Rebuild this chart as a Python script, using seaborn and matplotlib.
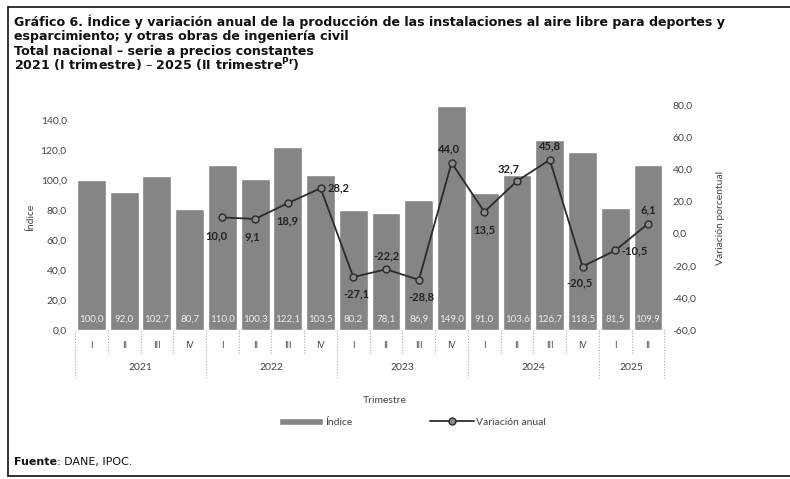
import numpy as np
import pandas as pd
import seaborn as sns
import matplotlib.pyplot as plt
from matplotlib.lines import Line2D
from matplotlib.patches import Patch
import matplotlib.transforms as mtransforms

# ---------------------------------------------------------------------------
# Data
# ---------------------------------------------------------------------------
years = ["2021", "2022", "2023", "2024", "2025"]
quarters_per_year = [4, 4, 4, 4, 2]
quarter_labels = ["I", "II", "III", "IV", "I", "II", "III", "IV", "I", "II", "III", "IV",
                  "I", "II", "III", "IV", "I", "II"]
indice = [100.0, 92.0, 102.7, 80.7, 110.0, 100.3, 122.1, 103.5, 80.2, 78.1, 86.9, 149.0,
          91.0, 103.6, 126.7, 118.5, 81.5, 109.9]
# annual variation starts in 2022-I (index 4)
variacion = [10.0, 9.1, 18.9, 28.2, -27.1, -22.2, -28.8, 44.0, 13.5, 32.7, 45.8, -20.5,
             -10.5, 6.1]
# label offsets (points) for the variation labels
var_offsets = [(-4, -13), (-2, -13), (0, -13), (13, 0), (2, -12), (0, 10), (2, -12),
               (-2, 10), (0, -13), (-6, 9), (0, 10), (-2, -12), (14, 0), (0, 10)]

periods = [f"{y}-{q}" for y, n in zip(years, quarters_per_year)
           for q in quarter_labels[:n]]
df_bar = pd.DataFrame({"periodo": periods, "indice": indice})
df_line = pd.DataFrame({"pos": np.arange(len(periods) - len(variacion), len(periods)),
                        "variacion": variacion})

def fmt(v):
    return f"{v:.1f}".replace(".", ",")

# ---------------------------------------------------------------------------
# Figure
# ---------------------------------------------------------------------------
sns.set_style("white")
plt.rcParams["font.family"] = ["Lato", "DejaVu Sans"]

fig = plt.figure(figsize=(7.9, 4.79), dpi=100)
ax = fig.add_axes([0.095, 0.311, 0.746, 0.47])

sns.barplot(data=df_bar, x="periodo", y="indice", order=periods, color="#858585",
            saturation=1, width=0.88, ax=ax)
ax.set_ylim(0, 150)
ax.set_yticks(np.arange(0, 141, 20))
ax.set_yticklabels([fmt(t) for t in np.arange(0, 141, 20)], fontsize=7.5, color="#444444")
ax.set_xlim(-0.5, len(periods) - 0.5)
ax.set_xticks([])
ax.set_xlabel("")
ax.set_ylabel("Índice", fontsize=7.5, color="#444444", labelpad=4)
ax.tick_params(axis="y", length=0, pad=6)
for s in ax.spines.values():
    s.set_visible(False)
ax.axhline(0, color="#bbbbbb", lw=0.8)

# bar value labels near the base
trans = mtransforms.blended_transform_factory(ax.transData, ax.transAxes)
for i, v in enumerate(indice):
    ax.text(i, 0.05, fmt(v), transform=trans, ha="center", va="center",
            fontsize=7, color="#eeeeee")

# variation line on secondary axis
ax2 = ax.twinx()
sns.lineplot(data=df_line, x="pos", y="variacion", ax=ax2, color="#2b2b2b", lw=1.3,
             marker="o", markersize=5, markerfacecolor="#8a8a8a",
             markeredgecolor="#2b2b2b", markeredgewidth=1)
ax2.set_ylim(-60, 80)
ax2.set_yticks(np.arange(-60, 81, 20))
ax2.set_yticklabels([fmt(t) for t in np.arange(-60, 81, 20)], fontsize=7.5, color="#444444")
ax2.tick_params(axis="y", length=0, pad=6)
ax2.set_ylabel("Variación porcentual", fontsize=7.5, color="#444444", labelpad=14)
ax2.set_xlabel("")
ax2.set_xlim(-0.5, len(periods) - 0.5)
for s in ax2.spines.values():
    s.set_visible(False)
for x, v, (dx, dy) in zip(df_line["pos"], variacion, var_offsets):
    ax2.annotate(fmt(v), (x, v), xytext=(dx, dy), textcoords="offset points",
                 ha="center", va="center", fontsize=8, fontweight="bold", color="#222222")

# multi-level category axis (quarter row + year row, dotted separators)
for i, q in enumerate(quarter_labels):
    ax.text(i, -0.067, q, transform=trans, ha="center", va="center",
            fontsize=6.5, color="#444444")
start = 0
for y, n in zip(years, quarters_per_year):
    ax.text(start + (n - 1) / 2, -0.165, y, transform=trans, ha="center", va="center",
            fontsize=7.5, color="#444444")
    start += n
year_edges = np.cumsum([0] + quarters_per_year) - 0.5
for b in np.arange(-0.5, len(periods), 1.0):
    low = -0.215 if np.any(np.isclose(year_edges, b)) else -0.11
    ax.plot([b, b], [0, low], transform=trans, clip_on=False, color="#aaaaaa",
            lw=0.8, ls=(0, (1, 1.5)))

fig.text(0.487, 0.163, "Trimestre", ha="center", va="center", fontsize=7.5, color="#444444")

handles = [Patch(facecolor="#858585", label="Índice"),
           Line2D([], [], color="#2b2b2b", lw=1.3, marker="o", markersize=5,
                  markerfacecolor="#8a8a8a", markeredgecolor="#2b2b2b",
                  label="Variación anual")]
fig.legend(handles=handles, loc="center", bbox_to_anchor=(0.522, 0.118), ncol=2,
           frameon=False, fontsize=7.5, columnspacing=7.5, handlelength=4.2,
           handleheight=0.6, handletextpad=0.2, labelcolor="#444444")

# titles
title_font = dict(family="DejaVu Sans", fontsize=9.1, fontweight="bold", color="#111111")
title_lines = [
    "Gráfico 6. Índice y variación anual de la producción de las instalaciones al aire libre para deportes y",
    "esparcimiento; y otras obras de ingeniería civil",
    "Total nacional – serie a precios constantes",
    r"2021 (I trimestre) – 2025 (II trimestre$^{\mathbf{Pr}}$)",
]
for k, t in enumerate(title_lines):
    fig.text(0.018, 1 - (22 + 14.5 * k) / 479, t, ha="left", va="center", **title_font)

fuente = fig.text(0.018, 1 - 462 / 479, "Fuente", ha="left", va="center",
                  family="DejaVu Sans", fontsize=8, fontweight="bold", color="#111111")
ax.annotate(": DANE, IPOC.", xy=(1, 0.5), xycoords=fuente, ha="left", va="center",
            family="DejaVu Sans", fontsize=8, color="#111111", annotation_clip=False)

# frame around the figure
top, bottom, left = 1 - 7 / 479, 1 - 476 / 479, 0.010
for xs, ys in [([left, 1.0], [top, top]), ([left, left], [top, bottom]),
               ([left, 1.0], [bottom, bottom])]:
    fig.add_artist(Line2D(xs, ys, transform=fig.transFigure, color="#111111", lw=1.2))

fig.savefig("out.png", dpi=100)
